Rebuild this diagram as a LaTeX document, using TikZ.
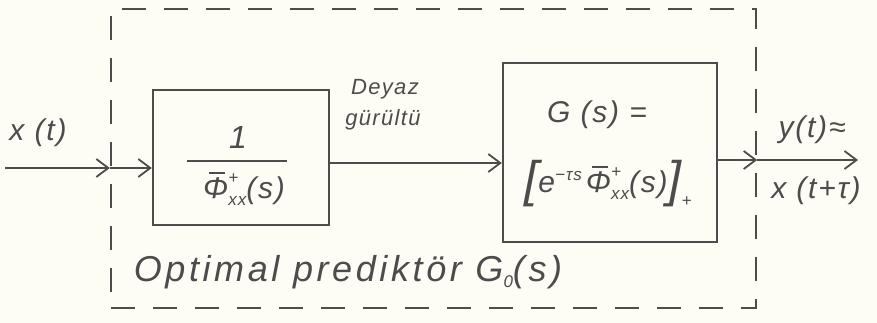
\documentclass[tikz,border=0pt]{standalone}
\usepackage{fontspec}
\setmainfont{Liberation Sans}[LetterSpace=6]
\usetikzlibrary{arrows.meta}
\definecolor{ink}{gray}{0.3}
\definecolor{paper}{RGB}{253,253,246}
\newcommand{\smalltxt}[1]{{\fontsize{17}{17}\selectfont\itshape #1}}
\newcommand{\bigbr}[1]{{\fontsize{50}{50}\selectfont\raisebox{-4pt}{#1}}}
% Phi with bar, superscript + and subscript xx
\newcommand{\phiplus}{\makebox[0pt][l]{\hspace{6pt}\raisebox{25pt}{\rule{16pt}{1.8pt}}}Φ\makebox[0pt][l]{\raisebox{15pt}{\smalltxt{+}}}\raisebox{-7pt}{\smalltxt{xx}}}
\begin{document}
\begin{tikzpicture}[x=1pt,y=-1pt,line width=2.2pt,
  every node/.style={text=ink,font=\fontsize{30}{34}\selectfont\itshape},
  blk/.style={draw=ink,line width=2.4pt,inner sep=0pt},
  outer/.style={draw=ink,dash pattern=on 24pt off 18pt,line width=2.4pt,inner sep=0pt},
  arr/.style={draw=ink,-{Straight Barb[length=12pt,width=18pt,line width=1.8pt]}},
  small/.style={font=\fontsize{22}{26}\selectfont\itshape}]
\fill[paper] (0,0) rectangle (877,323);
\useasboundingbox (0,0) rectangle (877,323);
% outer frame
\node[outer,minimum width=645pt,minimum height=299pt] (frame) at (433.5,158.5) {};
% blocks
\node[blk,minimum width=176pt,minimum height=135pt] (b1) at (241,157.5) {};
\node[blk,minimum width=214pt,minimum height=179pt] (b2) at (610,152.5) {};
% block contents
\node[font=\fontsize{32}{36}\selectfont\itshape] (one) at (238,137) {1};
\coordinate (fl) at (187,161);
\coordinate (fr) at (287,161);
\draw[ink,line width=2pt] (fl) -- (fr);
\node (den) at (244,189) {\phiplus(s)};
\node (geq) at (597,115) {G (s) =};
\node (gexp) at (608,184) {\bigbr{[}e\raisebox{12pt}{\smalltxt{−τs}}\hspace{4pt}\phiplus(s)\bigbr{]}\raisebox{-14pt}{\smalltxt{+}}};
% signals
\coordinate (xs) at (5,168);
\node (xt) at (38,133) {x (t)};
\draw[arr] (xs) -- (xs -| frame.west);
\draw[arr] (xs -| frame.west) -- (xs -| b1.west);
\coordinate (m) at (0,163);
\draw[arr] (m -| b1.east) -- (m -| b2.west);
\node[small] (dey) at (385,89) {Deyaz};
\node[small] (gur) at (383,120) {gürültü};
\coordinate (o) at (0,160);
\coordinate (oe) at (858,160);
\draw[arr] (o -| b2.east) -- (o -| frame.east);
\draw[arr] (o -| frame.east) -- (oe);
\node[font=\fontsize{30}{34}\selectfont\itshape] (yt) at (812,130) {y(t)≈};
\node[font=\fontsize{30}{34}\selectfont\itshape] (xtt) at (816,191) {x (t+τ)};
\node[font=\fontsize{36}{40}\selectfont\itshape\addfontfeatures{LetterSpace=10}] (lab) at (348,272) {Optimal prediktör G\raisebox{-6pt}{\smalltxt{0}}(s)};
\end{tikzpicture}
\end{document}
